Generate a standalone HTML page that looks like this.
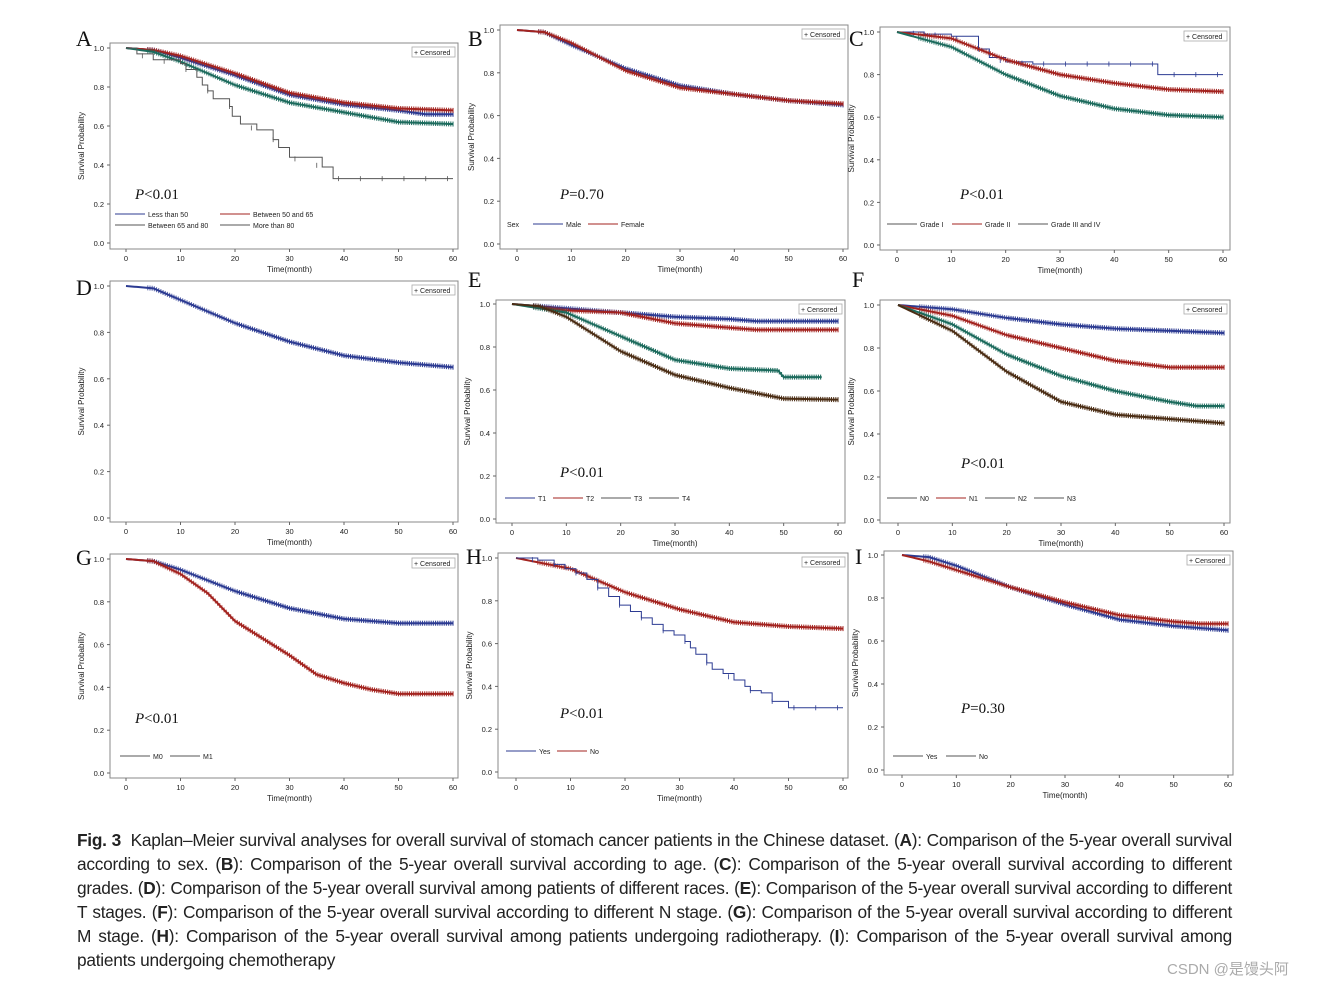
<!DOCTYPE html>
<html><head><meta charset="utf-8"><style>
body{margin:0;background:#fff;width:1319px;height:987px;overflow:hidden;position:relative;font-family:"Liberation Sans",sans-serif}
#cap{position:absolute;left:77px;top:828px;width:1155px;font-size:17.3px;line-height:24px;color:#222;letter-spacing:-0.25px}
#cap div{text-align:justify;text-align-last:justify;white-space:nowrap}
#cap div.last{text-align-last:left}
#wm{position:absolute;left:1167px;top:958px;font-size:15px;color:#aaa;font-family:"Liberation Sans","Noto Sans CJK SC",sans-serif}
</style></head><body>
<svg id="fig" width="1319" height="987" style="position:absolute;left:0;top:0"></svg>
<div id="cap">
<div><b>Fig. 3</b>&nbsp; Kaplan–Meier survival analyses for overall survival of stomach cancer patients in the Chinese dataset. (<b>A</b>): Comparison of the 5-year overall survival</div>
<div>according to sex. (<b>B</b>): Comparison of the 5-year overall survival according to age. (<b>C</b>): Comparison of the 5-year overall survival according to different</div>
<div>grades. (<b>D</b>): Comparison of the 5-year overall survival among patients of different races. (<b>E</b>): Comparison of the 5-year overall survival according to different</div>
<div>T stages. (<b>F</b>): Comparison of the 5-year overall survival according to different N stage. (<b>G</b>): Comparison of the 5-year overall survival according to different</div>
<div>M stage. (<b>H</b>): Comparison of the 5-year overall survival among patients undergoing radiotherapy. (<b>I</b>): Comparison of the 5-year overall survival among</div>
<div class="last">patients undergoing chemotherapy</div>
</div>
<div id="wm">CSDN @是馒头阿</div>
<script>
const xTicks=[0,10,20,30,40,50,60];
const yTicks=[0,0.2,0.4,0.6,0.8,1.0];
const C={blue:"#2c3b92",red:"#a3231f",teal:"#1c6b5d",brown:"#4b2d14",gray:"#555"};
const A1=[[0,1],[5,0.99],[10,0.95],[20,0.86],[30,0.76],[40,0.71],[50,0.68],[55,0.66],[60,0.66]];
const A2=[[0,1],[5,0.99],[10,0.96],[20,0.87],[30,0.77],[40,0.72],[50,0.69],[60,0.68]];
const A3=[[0,1],[5,0.98],[10,0.93],[20,0.81],[30,0.72],[40,0.67],[50,0.62],[60,0.61]];
const A4=[[0,1],[2,0.97],[5,0.94],[10,0.92],[11,0.89],[13,0.85],[14,0.81],[15,0.78],[16,0.74],[19,0.7],[19.5,0.65],[21,0.61],[24,0.58],[27,0.53],[28,0.49],[30,0.44],[36,0.39],[38,0.33],[60,0.33]];
const B1=[[0,1],[5,0.99],[10,0.93],[20,0.82],[30,0.74],[40,0.7],[50,0.67],[60,0.65]];
const B2=[[0,1],[5,0.99],[10,0.94],[20,0.81],[30,0.73],[40,0.7],[50,0.67],[60,0.655]];
const C1=[[0,1],[5,0.99],[10,0.98],[15,0.92],[17,0.88],[20,0.86],[25,0.85],[47,0.85],[48,0.8],[60,0.8]];
const C2=[[0,1],[10,0.97],[20,0.87],[30,0.8],[40,0.76],[50,0.73],[60,0.72]];
const C3=[[0,1],[10,0.93],[20,0.8],[30,0.7],[40,0.64],[50,0.61],[60,0.6]];
const D1=[[0,1],[5,0.99],[10,0.94],[20,0.84],[30,0.76],[40,0.7],[50,0.67],[60,0.65]];
const E1=[[0,1],[10,0.98],[20,0.96],[30,0.94],[40,0.93],[45,0.92],[60,0.92]];
const E2=[[0,1],[10,0.97],[20,0.96],[30,0.91],[40,0.89],[45,0.88],[60,0.88]];
const E3=[[0,1],[10,0.96],[20,0.85],[30,0.74],[40,0.7],[49,0.69],[50,0.66],[57,0.66]];
const E4=[[0,1],[5,0.99],[10,0.94],[20,0.78],[30,0.67],[40,0.61],[50,0.56],[60,0.555]];
const F1=[[0,1],[10,0.98],[20,0.94],[30,0.91],[40,0.89],[50,0.88],[60,0.87]];
const F2=[[0,1],[10,0.95],[20,0.86],[30,0.8],[40,0.74],[50,0.71],[60,0.71]];
const F3=[[0,1],[10,0.91],[20,0.77],[30,0.67],[40,0.6],[50,0.55],[55,0.53],[60,0.53]];
const F4=[[0,1],[10,0.88],[20,0.69],[30,0.55],[40,0.49],[50,0.47],[60,0.45]];
const G1=[[0,1],[5,0.99],[10,0.95],[20,0.85],[30,0.77],[40,0.72],[50,0.7],[60,0.7]];
const G2=[[0,1],[5,0.99],[10,0.93],[15,0.84],[20,0.71],[30,0.55],[35,0.46],[40,0.42],[45,0.39],[50,0.37],[60,0.37]];
const H1=[[0,1],[4,0.99],[7,0.97],[9,0.95],[11,0.93],[13,0.9],[15,0.86],[17,0.82],[19,0.78],[21,0.75],[23,0.72],[25,0.69],[27,0.66],[29,0.64],[31,0.61],[32,0.58],[33,0.55],[35,0.51],[36,0.48],[38,0.46],[40,0.43],[42,0.4],[43,0.38],[45,0.37],[47,0.33],[50,0.3],[60,0.3]];
const H2=[[0,1],[10,0.95],[20,0.84],[30,0.76],[40,0.7],[50,0.68],[60,0.67]];
const I1=[[0,1],[5,0.99],[10,0.95],[20,0.85],[30,0.77],[40,0.7],[50,0.67],[60,0.65]];
const I2=[[0,1],[5,0.97],[10,0.93],[20,0.85],[30,0.78],[40,0.72],[50,0.69],[55,0.68],[60,0.68]];

const panels=[
{id:"A",f:[110,43,348,206],y1:48,y0:243,x0:126,x60:453,lab:[76,46],p:["P","<0.01",135,199],
 s:[[A1,C.blue,1],[A2,C.red,1],[A3,C.teal,1],[A4,C.gray,0]],
 leg:[["Less than 50",C.blue,115,217],["Between 50 and 65",C.red,220,217],["Between 65 and 80",C.gray,115,228],["More than 80",C.gray,220,228]]},
{id:"B",f:[500,25,348,224],y1:30,y0:244,x0:517,x60:843,lab:[468,46],p:["P","=0.70",560,199],
 s:[[B1,C.blue,1],[B2,C.red,1]],leg:[["Sex",null,507,227],["Male",C.blue,533,227],["Female",C.red,588,227]]},
{id:"C",f:[880,27,350,223],y1:32,y0:245,x0:897,x60:1223,lab:[849,46],p:["P","<0.01",960,199],
 s:[[C1,C.blue,0],[C2,C.red,1],[C3,C.teal,1]],leg:[["Grade I",C.gray,887,227],["Grade II",C.red,952,227],["Grade III and IV",C.gray,1018,227]]},
{id:"D",f:[110,281,348,241],y1:286,y0:518,x0:126,x60:453,lab:[76,295],p:null,s:[[D1,C.blue,1]],leg:[]},
{id:"E",f:[496,300,349,223],y1:304,y0:519,x0:512,x60:838,lab:[468,287],p:["P","<0.01",560,477],
 s:[[E1,C.blue,1],[E2,C.red,1],[E3,C.teal,1],[E4,C.brown,1]],leg:[["T1",C.blue,505,501],["T2",C.red,553,501],["T3",C.gray,601,501],["T4",C.gray,649,501]]},
{id:"F",f:[880,300,350,223],y1:305,y0:520,x0:898,x60:1224,lab:[852,287],p:["P","<0.01",961,468],
 s:[[F1,C.blue,1],[F2,C.red,1],[F3,C.teal,1],[F4,C.brown,1]],leg:[["N0",C.gray,887,501],["N1",C.red,936,501],["N2",C.gray,985,501],["N3",C.gray,1034,501]]},
{id:"G",f:[110,554,348,224],y1:559,y0:773,x0:126,x60:453,lab:[76,565],p:["P","<0.01",135,723],
 s:[[G1,C.blue,1],[G2,C.red,1]],leg:[["M0",C.gray,120,759],["M1",C.gray,170,759]]},
{id:"H",f:[498,553,350,225],y1:558,y0:772,x0:516,x60:843,lab:[466,564],p:["P","<0.01",560,718],
 s:[[H2,C.red,1],[H1,C.blue,0]],leg:[["Yes",C.blue,506,754],["No",C.red,557,754]]},
{id:"I",f:[884,551,349,224],y1:555,y0:770,x0:902,x60:1228,lab:[855,564],p:["P","=0.30",961,713],
 s:[[I1,C.blue,1],[I2,C.red,1]],leg:[["Yes",C.gray,893,759],["No",C.gray,946,759]]}
];
const NS="http://www.w3.org/2000/svg";
const svg=document.getElementById("fig");
function el(tag,attrs,parent,txt){const e=document.createElementNS(NS,tag);for(const k in attrs)e.setAttribute(k,attrs[k]);if(txt!=null)e.textContent=txt;(parent||svg).appendChild(e);return e;}
function interp(d,t){for(let i=1;i<d.length;i++){if(t<=d[i][0]){const a=d[i-1],b=d[i];return a[1]+(b[1]-a[1])*(t-a[0])/(b[0]-a[0]);}}return d[d.length-1][1];}
panels.forEach(P=>{
  const g=el("g",{});
  
  
  const sx=t=>P.x0+(P.x60-P.x0)*t/60, sy=v=>P.y0+(P.y1-P.y0)*v;
  const [fx,fy,fw,fh]=P.f;
  const fr=el("rect",{x:fx,y:fy,width:fw,height:fh,fill:"none",stroke:"#888","stroke-width":1},g);
  
  const L=el("text",{x:P.lab[0],y:P.lab[1],"font-family":"Liberation Serif, serif","font-size":22,fill:"#111"},g,P.id);
  
  yTicks.forEach(v=>{el("line",{x1:fx-3,x2:fx,y1:sy(v),y2:sy(v),stroke:"#666"},g);
    const t=el("text",{x:fx-6,y:sy(v)+3,"font-size":7.5,"text-anchor":"end",fill:"#222"},g,v.toFixed(1));
    });
  xTicks.forEach(v=>{el("line",{x1:sx(v),x2:sx(v),y1:fy+fh,y2:fy+fh+3,stroke:"#666"},g);
    const t=el("text",{x:sx(v),y:fy+fh+12,"font-size":7.5,"text-anchor":"middle",fill:"#222"},g,v);
    });
  const xt=el("text",{x:(P.x0+P.x60)/2,y:fy+fh+23,"font-size":8,"text-anchor":"middle",fill:"#222"},g,"Time(month)");
  
  const ym=(fy+fy+fh)/2;
  const yt=el("text",{x:fx-26,y:ym,"font-size":8,"text-anchor":"middle",fill:"#222",transform:`rotate(-90 ${fx-26} ${ym})`},g,"Survival Probability");
  
  const cb=el("g",{},g);
  el("rect",{x:fx+fw-46,y:fy+4,width:43,height:10,fill:"#fff",stroke:"#aaa","stroke-width":0.8},cb);
  el("text",{x:fx+fw-44,y:fy+12,"font-size":7,fill:"#222"},cb,"+ Censored");
  P.s.forEach((S,si)=>{
    const [d,col,dense]=S;
    let pts=[];
    if(dense){for(let t=0;t<=d[d.length-1][0]+1e-9;t+=0.5)pts.push([sx(t),sy(interp(d,t))]);}
    else{pts.push([sx(d[0][0]),sy(d[0][1])]);for(let i=1;i<d.length;i++){pts.push([sx(d[i][0]),sy(d[i-1][1])]);pts.push([sx(d[i][0]),sy(d[i][1])]);}}
    const pl=el("polyline",{points:pts.map(p=>p.join(",")).join(" "),fill:"none",stroke:col,"stroke-width":dense?2:1},g);
    
    const end=d[d.length-1][0];
    const step=dense?0.4:4;
    for(let t=dense?4:3;t<=end;t+=step){const x=sx(t),y=sy(interp(d,t));
      el("line",{x1:x,x2:x,y1:y-2.5,y2:y+2.5,stroke:col,"stroke-width":dense?1.1:0.8,opacity:dense?(t>20?0.95:0.75):1},g);}
  });
  if(P.p){const pt=el("text",{x:P.p[2],y:P.p[3],"font-family":"Liberation Serif, serif","font-size":15,fill:"#111"},g);
    
    el("tspan",{"font-style":"italic"},pt,P.p[0]);el("tspan",{},pt,P.p[1]);}
  P.leg.forEach(l=>{const lg=el("g",{},g);
    if(l[1]){el("line",{x1:l[2],x2:l[2]+30,y1:l[3]-3,y2:l[3]-3,stroke:l[1],"stroke-width":1},lg);
      el("text",{x:l[2]+33,y:l[3],"font-size":7,fill:"#222"},lg,l[0]);}
    else el("text",{x:l[2],y:l[3],"font-size":7,fill:"#222"},lg,l[0]);});
});
</script>
</body></html>
